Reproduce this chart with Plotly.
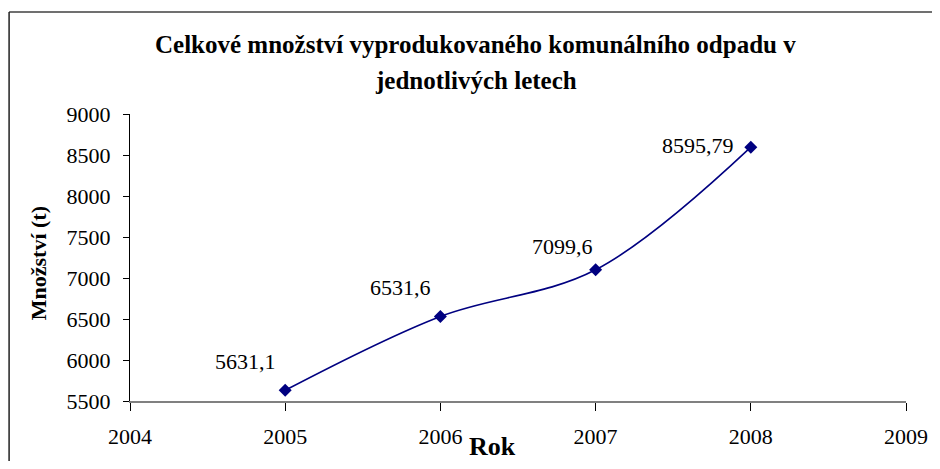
import plotly.graph_objects as go

roky = [2005, 2006, 2007, 2008]
mnozstvi = [5631.1, 6531.6, 7099.6, 8595.79]
popisky = ["5631,1", "6531,6", "7099,6", "8595,79"]
# label offsets (px) relative to each point
label_dx = [-7, -7, -1, -15]
label_dy = [29, 29, 23, 2]

x_ticks = [2004, 2005, 2006, 2007, 2008, 2009]
y_ticks = [5500, 6000, 6500, 7000, 7500, 8000, 8500, 9000]

OFF = 8  # page body margin
W, H = 940 - OFF, 469 - 2 * OFF
# plot area in reference pixel coords
X0, X1, Y0, Y1 = 130, 913, 114, 404
L, R, T, B = X0 - OFF, (940 - OFF) - (X1 - OFF), Y0 - OFF, H - (Y1 - OFF)
pw, ph = X1 - X0, Y1 - Y0

def px(xp):
    return (xp - X0) / pw

def py(yp):
    return (Y1 - yp) / ph

serif = "Liberation Serif, Times New Roman, serif"
navy = "#000080"

fig = go.Figure()
fig.add_trace(go.Scatter(
    x=roky, y=mnozstvi, mode="lines+markers",
    line=dict(color=navy, width=1.6, shape="spline", smoothing=1),
    marker=dict(symbol="diamond", size=10, color=navy),
    hoverinfo="skip", showlegend=False,
))

ann = []
for xv, yv, t, dx, dy in zip(roky, mnozstvi, popisky, label_dx, label_dy):
    ann.append(dict(x=xv, y=yv, xref="x", yref="y", text=t, showarrow=False,
                    xanchor="right", yanchor="middle", xshift=dx, yshift=dy,
                    font=dict(family=serif, size=22, color="black")))

ann.append(dict(x=px(479), y=py(44), xref="paper", yref="paper", showarrow=False,
                text="<b>Celkové množství vyprodukovaného komunálního odpadu v</b>",
                xanchor="center", yanchor="middle",
                font=dict(family=serif, size=25, color="black")))
ann.append(dict(x=px(479), y=py(80), xref="paper", yref="paper", showarrow=False,
                text="<b>jednotlivých letech</b>",
                xanchor="center", yanchor="middle",
                font=dict(family=serif, size=25, color="black")))
ann.append(dict(x=px(496), y=py(450), xref="paper", yref="paper", showarrow=False,
                text="<b>Rok</b>", xanchor="center", yanchor="middle",
                font=dict(family=serif, size=26, color="black")))
ann.append(dict(x=px(38), y=py(265), xref="paper", yref="paper", showarrow=False,
                text="<b>Množství (t)</b>", textangle=-90,
                xanchor="center", yanchor="middle",
                font=dict(family=serif, size=22, color="black")))

shapes = [
    dict(type="line", xref="paper", yref="paper", x0=px(8), x1=px(940), y0=py(11), y1=py(11),
         line=dict(color="#404040", width=1.5)),
    dict(type="line", xref="paper", yref="paper", x0=px(8), x1=px(8), y0=py(11), y1=py(469),
         line=dict(color="#202020", width=1.5)),
]

fig.update_layout(
    width=W, height=H,
    margin=dict(l=L, r=R, t=T, b=B, pad=0),
    paper_bgcolor="white", plot_bgcolor="white",
    annotations=ann, shapes=shapes,
    font=dict(family=serif, color="black"),
)
fig.update_xaxes(
    range=[2004, 2009], tickvals=x_ticks, ticktext=[str(v) for v in x_ticks],
    showgrid=False, zeroline=False, showline=True, linecolor="#808080", linewidth=1.5,
    ticks="outside", ticklen=8, tickwidth=1, tickcolor="black",
    ticklabelstandoff=7, tickfont=dict(family=serif, size=22, color="black"),
)
fig.update_yaxes(
    range=[5500, 9000], tickvals=y_ticks, ticktext=[str(v) for v in y_ticks],
    showgrid=False, zeroline=False, showline=True, linecolor="black", linewidth=1,
    ticks="outside", ticklen=6, tickwidth=1, tickcolor="black",
    ticklabelstandoff=8, tickfont=dict(family=serif, size=22, color="black"),
)

fig.write_html("out.html")
